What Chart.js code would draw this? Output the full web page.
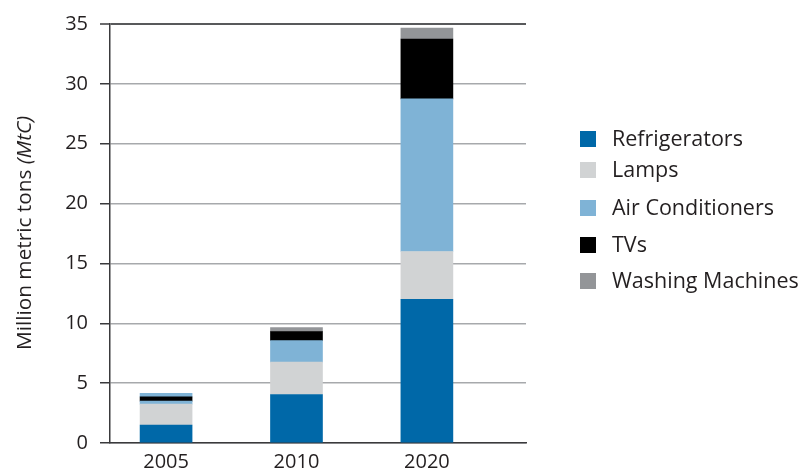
<!DOCTYPE html>
<html>
<head>
<meta charset="utf-8">
<script src="https://cdn.jsdelivr.net/npm/chart.js@4/dist/chart.umd.min.js"></script>
<style>
  html, body { margin: 0; padding: 0; background: #fff; }
  #wrap { width: 800px; height: 474px; position: relative; }
</style>
</head>
<body>
<div id="wrap"><canvas id="c" width="800" height="474"></canvas></div>
<script>
// ---- data ----
const categories = ['2005', '2010', '2020'];
const refrigerators = [1.5, 4.05, 12.0];
const lamps = [1.75, 2.7, 4.0];
const airConditioners = [0.25, 1.8, 12.75];
const tvs = [0.35, 0.75, 5.0];
const washingMachines = [0.3, 0.35, 0.9];
const yTicks = [0, 5, 10, 15, 20, 25, 30, 35];
const seriesNames = ['Refrigerators', 'Lamps', 'Air Conditioners', 'TVs', 'Washing Machines'];

const FONT = '"Open Sans", "Noto Sans", sans-serif';
const TEXT = '#231f20';
const colors = ['#0068a8', '#d1d3d4', '#7fb3d6', '#000000', '#939598'];

function pts(arr) { return arr.map((v, i) => ({ x: i, y: v })); }

const seriesValues = [refrigerators, lamps, airConditioners, tvs, washingMachines];
const datasets = seriesValues.map((vals, k) => ({
  label: seriesNames[k],
  data: pts(vals),
  backgroundColor: k === 4 ? [colors[2], colors[4], colors[4]] : colors[k],
  borderWidth: 0,
  barThickness: 52,
  legendColor: colors[k]
}));

// custom legend (uneven row spacing as in reference)
const legendPlugin = {
  id: 'customLegend',
  afterDraw(chart) {
    const ctx = chart.ctx;
    const rowBottoms = [147, 178, 216, 253, 289];
    ctx.save();
    ctx.font = '21.5px ' + FONT;
    ctx.textAlign = 'left';
    ctx.textBaseline = 'alphabetic';
    chart.data.datasets.forEach((ds, i) => {
      const b = rowBottoms[i];
      ctx.fillStyle = ds.legendColor;
      ctx.fillRect(580, b - 16, 16, 16);
      ctx.fillStyle = TEXT;
      ctx.fillText(ds.label, 612, b - 1);
    });
    ctx.restore();
  }
};

// y axis title with italic unit
const yTitlePlugin = {
  id: 'yTitle',
  afterDraw(chart) {
    const ctx = chart.ctx;
    ctx.save();
    ctx.translate(31, 350);
    ctx.rotate(-Math.PI / 2);
    ctx.fillStyle = TEXT;
    ctx.textBaseline = 'alphabetic';
    ctx.textAlign = 'left';
    const a = 'Million metric tons ';
    ctx.font = '20.8px ' + FONT;
    ctx.fillText(a, 0, 0);
    const w = ctx.measureText(a).width;
    ctx.font = 'italic 20.8px ' + FONT;
    ctx.fillText('(MtC)', w, 0);
    ctx.restore();
  }
};

new Chart(document.getElementById('c'), {
  type: 'bar',
  data: { datasets },
  plugins: [legendPlugin, yTitlePlugin],
  options: {
    responsive: false,
    animation: false,
    events: [],
    layout: { padding: { left: 0, right: 274, top: 22, bottom: 0 } },
    plugins: { legend: { display: false }, tooltip: { enabled: false }, title: { display: false } },
    scales: {
      x: {
        type: 'linear',
        stacked: true,
        offset: false,
        min: -0.43,
        max: 2.76,
        afterBuildTicks(scale) { scale.ticks = categories.map((c, i) => ({ value: i })); },
        afterFit(scale) { scale.height = 31; },
        ticks: {
          callback: (v) => categories[v],
          font: { family: FONT, size: 20 },
          color: TEXT,
          padding: 7,
          maxRotation: 0,
          autoSkip: false
        },
        grid: { display: true, drawOnChartArea: false, drawTicks: false },
        border: { display: true, color: '#3a3a3c', width: 1.5 }
      },
      y: {
        stacked: true,
        min: 0,
        max: 35,
        afterBuildTicks(scale) { scale.ticks = yTicks.map(v => ({ value: v })); },
        afterFit(scale) { scale.width = 110; },
        ticks: {
          font: { family: FONT, size: 20 },
          color: TEXT,
          padding: 12
        },
        grid: {
          color: (ctx) => ctx.tick && ctx.tick.value === 35 ? '#58595b' : '#a7a9ac',
          lineWidth: (ctx) => ctx.tick && ctx.tick.value === 35 ? 2 : 1.5,
          tickColor: '#3a3a3c',
          tickLength: 10,
          tickWidth: 1.5
        },
        border: { display: true, color: '#3a3a3c', width: 1.5 }
      }
    }
  }
});
</script>
</body>
</html>
